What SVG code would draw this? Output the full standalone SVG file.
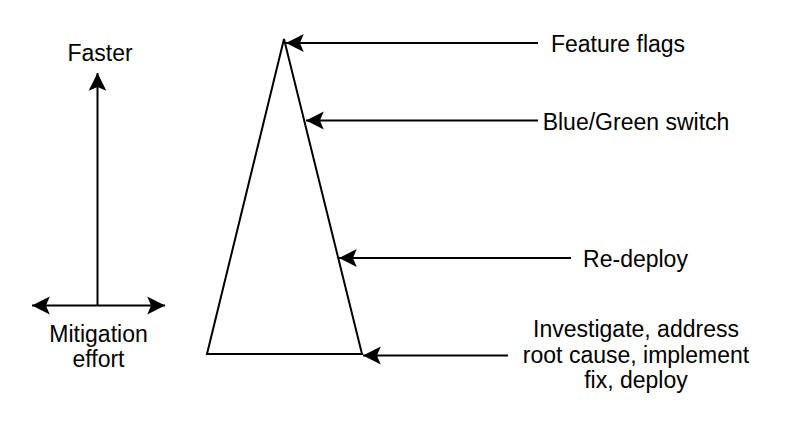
<svg xmlns="http://www.w3.org/2000/svg" width="800" height="430" viewBox="0 0 800 430">
  <style>
    .ln { stroke: #000; stroke-width: 2; fill: none; }
    .tx { font-family: "Liberation Sans", Arial, sans-serif; font-size: 23px; fill: #000; text-anchor: middle; }
  </style>
  <defs>
    <marker id="ah" markerUnits="userSpaceOnUse" markerWidth="20" markerHeight="20" viewBox="-17 -9 18 18" refX="0" refY="0" orient="auto-start-reverse">
      <path d="M0,0 L-16,-8 L-12.5,0 L-16,8 Z" fill="#000" stroke="none"/>
    </marker>
  </defs>
  <rect width="800" height="430" fill="#fff"/>

  <g id="triangle">
    <path class="ln" d="M284,39 L362,354 L207,354 Z" stroke-linejoin="miter"/>
  </g>

  <g id="axes">
    <line class="ln" x1="97.5" y1="305.5" x2="97.5" y2="73" marker-end="url(#ah)"/>
    <line class="ln" x1="32" y1="305.5" x2="165" y2="305.5" marker-start="url(#ah)" marker-end="url(#ah)"/>
    <text class="tx" x="100" y="61">Faster</text>
    <text class="tx" x="98.5" y="342">Mitigation</text>
    <text class="tx" x="98.5" y="367">effort</text>
  </g>

  <g id="connectors">
    <line class="ln" x1="538" y1="43" x2="286" y2="43" marker-end="url(#ah)"/>
    <line class="ln" x1="538" y1="120.5" x2="306" y2="120.5" marker-end="url(#ah)"/>
    <line class="ln" x1="571" y1="258" x2="339" y2="258" marker-end="url(#ah)"/>
    <line class="ln" x1="508" y1="355.5" x2="363" y2="355.5" marker-end="url(#ah)"/>
  </g>

  <g id="label-feature-flags">
    <text class="tx" x="618" y="52">Feature flags</text>
  </g>
  <g id="label-blue-green">
    <text class="tx" x="636" y="130">Blue/Green switch</text>
  </g>
  <g id="label-redeploy">
    <text class="tx" x="635.5" y="267">Re-deploy</text>
  </g>
  <g id="label-investigate">
    <text class="tx" x="636" y="337">Investigate, address</text>
    <text class="tx" x="636" y="363">root cause, implement</text>
    <text class="tx" x="636" y="388">fix, deploy</text>
  </g>
</svg>
